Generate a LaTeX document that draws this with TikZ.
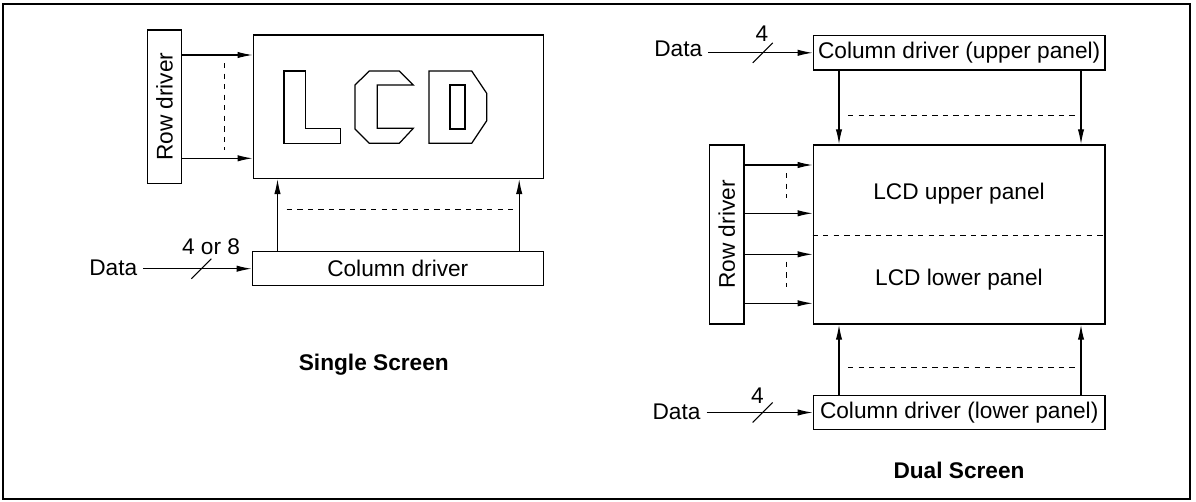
\documentclass[tikz,border=0pt]{standalone}
\usepackage{fontspec}
\setmainfont{Liberation Sans}
\usetikzlibrary{arrows.meta,positioning,calc}
\tikzset{
  box/.style={draw, line width=0.85pt, inner sep=0pt, align=center},
  arrow/.style={-{Latex[length=8.5pt,width=3.6pt]}, line width=0.65pt},
  guide/.style={dashed, line width=0.55pt},
  letter/.style={line width=0.7pt},
  bus/.style={line width=0.6pt},
  caption/.style={font=\fontsize{12.9}{15}\selectfont\bfseries}
}

\begin{document}
\begin{tikzpicture}[x=0.02cm, y=-0.02cm, font=\fontsize{12.9}{15}\selectfont]
  \useasboundingbox (0,0) rectangle (1196,501);
  \draw[line width=1pt] (3.3,4.3) rectangle (1190,499.3);

  % single screen
  \node[box, minimum width=0.688cm, minimum height=3.066cm] (rowS) at (164.5,106.7) {};
  \node[rotate=90] (rowSt) at (rowS) {Row driver};
  \node[box, minimum width=5.8cm, minimum height=2.866cm] (lcdS) at (398.3,106.7) {};
  \node[box, minimum width=5.82cm, minimum height=0.68cm] (colS) at (397.8,268.7) {Column driver};
  \node (dS) at (113.3,268.3) {Data};
  \node (wS) at (211,247) {4 or 8};
  \node[caption] (capS) at (373.8,365) {Single Screen};

  % LCD letters
  \draw[letter] (284,71) -- (305.7,71) -- (305.7,128.3) -- (340.7,128.3)
    -- (340.7,143.3) -- (284,143.3) -- cycle;
  \draw[letter] (369.3,71) -- (399.3,71) -- (413.3,85) -- (377.3,85)
    -- (377.3,128.3) -- (413.3,128.3) -- (399.3,143.3) -- (369.3,143.3)
    -- (355,129) -- (355,85) -- cycle;
  \draw[letter] (429,71) -- (471.7,71) -- (486.7,93.3) -- (486.7,120.7)
    -- (471.7,143.3) -- (429,143.3) -- cycle;
  \draw[letter] (450,85) rectangle (465,129);

  \coordinate (rS1) at (0,55);
  \coordinate (rS2) at (0,158.3);
  \coordinate (cS1) at (277.5,0);
  \coordinate (cS2) at (519.2,0);
  \draw[arrow] (rowS.east |- rS1) -- (lcdS.west |- rS1);
  \draw[arrow] (rowS.east |- rS2) -- (lcdS.west |- rS2);
  \draw[guide] (224.3,63) -- (224.3,150);
  \draw[arrow] (colS.north -| cS1) -- (lcdS.south -| cS1);
  \draw[arrow] (colS.north -| cS2) -- (lcdS.south -| cS2);
  \draw[guide] (286.7,209) -- (516.7,209);

  \draw[arrow] (dS.east |- colS.west) -- (colS.west);
  \coordinate (sS) at (201.3,268.7);
  \draw[bus] ($(sS)+(-10,10)$) -- ($(sS)+(10,-10)$);

  % dual screen
  \node[box, minimum width=5.834cm, minimum height=0.686cm] (colU) at (959.2,52.8) {Column driver (upper panel)};
  \node[box, minimum width=5.834cm, minimum height=3.58cm] (lcdD) at (959.2,234.5) {};
  \node[box, minimum width=0.694cm, minimum height=3.58cm] (rowD) at (726.7,234.5) {};
  \node[rotate=90] (rowDt) at (rowD) {Row driver};
  \node[box, minimum width=5.834cm, minimum height=0.672cm] (colL) at (959.2,412.5) {Column driver (lower panel)};
  \node (upD) at (959,193.3) {LCD upper panel};
  \node (loD) at (959,280) {LCD lower panel};
  \node (dU) at (678.3,49.3) {Data};
  \node (wU) at (762,34) {4};
  \node (dL) at (676.5,411.7) {Data};
  \node (wL) at (757.5,395.5) {4};
  \node[caption] (capD) at (959,470) {Dual Screen};

  \coordinate (mid) at (0,235.7);
  \draw[guide] (lcdD.west |- mid) -- (lcdD.east |- mid);

  \coordinate (rD1) at (0,165);
  \coordinate (rD2) at (0,213.3);
  \coordinate (rD3) at (0,254.3);
  \coordinate (rD4) at (0,303.3);
  \draw[arrow] (rowD.east |- rD1) -- (lcdD.west |- rD1);
  \draw[arrow] (rowD.east |- rD2) -- (lcdD.west |- rD2);
  \draw[arrow] (rowD.east |- rD3) -- (lcdD.west |- rD3);
  \draw[arrow] (rowD.east |- rD4) -- (lcdD.west |- rD4);
  \draw[guide] (786.7,173) -- (786.7,198);
  \draw[guide] (786.7,261.7) -- (786.7,286.7);

  \coordinate (cD1) at (839,0);
  \coordinate (cD2) at (1081,0);
  \draw[arrow] (colU.south -| cD1) -- (lcdD.north -| cD1);
  \draw[arrow] (colU.south -| cD2) -- (lcdD.north -| cD2);
  \draw[guide] (848,115.7) -- (1076.7,115.7);
  \draw[arrow] (colL.north -| cD1) -- (lcdD.south -| cD1);
  \draw[arrow] (colL.north -| cD2) -- (lcdD.south -| cD2);
  \draw[guide] (848,367.3) -- (1076.7,367.3);

  \draw[arrow] (dU.east |- colU.west) -- (colU.west);
  \coordinate (sU) at (762.7,52.8);
  \draw[bus] ($(sU)+(-10,10)$) -- ($(sU)+(10,-10)$);
  \draw[arrow] (dL.east |- colL.west) -- (colL.west);
  \coordinate (sL) at (762.7,412.5);
  \draw[bus] ($(sL)+(-10,10)$) -- ($(sL)+(10,-10)$);
\end{tikzpicture}
\end{document}
